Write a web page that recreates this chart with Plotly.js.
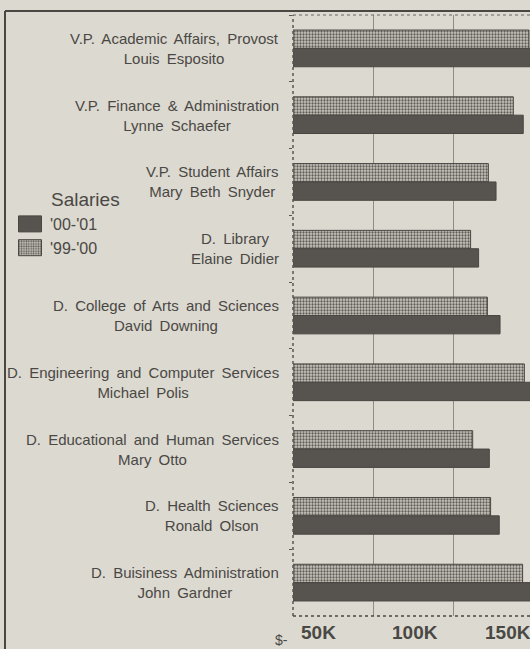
<!DOCTYPE html>
<html>
<head>
<meta charset="utf-8">
<script src="https://cdn.plot.ly/plotly-3.0.1.min.js"></script>
<style>
  html, body { margin: 0; padding: 0; background: #dcd9d0; }
  #chart { width: 530px; height: 649px; }
  .annotation-text { word-spacing: 3px; }
</style>
</head>
<body>
<div id="chart"></div>
<script>
// ---- data ----
var titles = [
  "V.P. Academic Affairs, Provost",
  "V.P. Finance & Administration",
  "V.P. Student Affairs",
  "D. Library",
  "D. College of Arts and Sciences",
  "D. Engineering and Computer Services",
  "D. Educational and Human Services",
  "D. Health Sciences",
  "D. Buisiness Administration"
];
var people = [
  "Louis Esposito",
  "Lynne Schaefer",
  "Mary Beth Snyder",
  "Elaine Didier",
  "David Downing",
  "Michael Polis",
  "Mary Otto",
  "Ronald Olson",
  "John Gardner"
];
var salary9900 = [147500, 137700, 122100, 111000, 121500, 144600, 112300, 123500, 143500];
var salary0001 = [155000, 143900, 126900, 116000, 129400, 152000, 122700, 128900, 150000];
var seriesNames = ["'99-'00", "'00-'01"];
var legendTitle = "Salaries";
var tickLabels = ["$-", "50K", "100K", "150K"];

// ---- layout helpers (pixel geometry) ----
var W = 530, H = 649, L = 293, T = 15, B = 33, R = 0;
var PW = W - L - R, PH = H - T - B;
function px(x) { return (x - L) / PW; }
function py(y) { return 1 - (y - T) / PH; }

var cats = titles.map(function (t, i) { return t + " / " + people[i]; });
var txt = "#4a4845";

var traces = [
  {
    type: "bar", orientation: "h", name: seriesNames[0],
    y: cats, x: salary9900,
    marker: {
      color: "#cfccc4",
      pattern: { shape: ".", fgcolor: "#5f5b57", bgcolor: "#c9c6be", size: 3, solidity: 0.45 },
      line: { color: "#4a4642", width: 1 }
    },
    hoverinfo: "x"
  },
  {
    type: "bar", orientation: "h", name: seriesNames[1],
    y: cats, x: salary0001,
    marker: { color: "#57534f", line: { color: "#4a4642", width: 1 } },
    hoverinfo: "x"
  }
];

var annotations = [];
cats.forEach(function (c, i) {
  annotations.push({
    xref: "paper", yref: "y", x: px(281), y: c,
    xanchor: "right", yanchor: "middle", align: "center",
    text: titles[i] + "<br>" + people[i],
    showarrow: false,
    font: { family: "Liberation Sans, Arial, sans-serif", size: 15, color: txt }
  });
});
// legend title
annotations.push({
  xref: "paper", yref: "paper", x: px(49), y: py(200),
  xanchor: "left", yanchor: "middle", text: legendTitle, showarrow: false,
  font: { family: "Liberation Sans, Arial, sans-serif", size: 19, color: txt }
});
// axis tick labels (placed as printed)
var tickPx = [281, 318, 415, 508];
tickLabels.forEach(function (t, i) {
  var first = i === 0;
  annotations.push({
    xref: "paper", yref: "paper", x: px(tickPx[i]), y: py(first ? 640 : 632),
    xanchor: "center", yanchor: "middle", text: first ? t : "<b>" + t + "</b>", showarrow: false,
    font: first ? { family: "Liberation Sans, Arial, sans-serif", size: 14, color: txt }
                : { family: "Liberation Sans Narrow, Arial Narrow, sans-serif", size: 19, color: txt }
  });
});

var shapes = [
  // outer frame
  { type: "line", xref: "paper", yref: "paper", x0: px(5), x1: px(540), y0: py(11), y1: py(11),
    line: { color: "#4a4642", width: 2 } },
  { type: "line", xref: "paper", yref: "paper", x0: px(5), x1: px(5), y0: py(11), y1: py(660),
    line: { color: "#4a4642", width: 2 } },
  // plot borders (dotted)
  { type: "line", xref: "paper", yref: "paper", x0: 0, x1: 1, y0: 1, y1: 1,
    line: { color: "#6a6661", width: 1, dash: "dot" } },
  { type: "line", xref: "paper", yref: "paper", x0: 0, x1: 1, y0: 0, y1: 0,
    line: { color: "#4a4642", width: 1.5, dash: "dot" } },
  { type: "line", xref: "paper", yref: "paper", x0: 0, x1: 0, y0: 0, y1: 1,
    line: { color: "#5a5652", width: 1.5, dash: "dot" } }
];

var layout = {
  width: W, height: H,
  margin: { l: L, r: R, t: T, b: B, pad: 0 },
  paper_bgcolor: "#dcd9d0", plot_bgcolor: "#dcd9d0",
  barmode: "group", bargap: 0.45, bargroupgap: 0,
  showlegend: true,
  legend: {
    x: px(10), y: py(207), xanchor: "left", yanchor: "top",
    traceorder: "reversed", bgcolor: "rgba(0,0,0,0)",
    font: { family: "Liberation Sans, Arial, sans-serif", size: 16, color: txt },
    itemwidth: 30, tracegroupgap: 0
  },
  xaxis: {
    range: [0, PW / 80 * 50000], showticklabels: false, ticks: "",
    showgrid: true, gridcolor: "#8f8c86", gridwidth: 1,
    tickvals: [50000, 100000, 150000],
    zeroline: false, showline: false, fixedrange: true
  },
  yaxis: {
    type: "category", autorange: "reversed", showticklabels: false,
    ticks: "outside", ticklen: 3, tickcolor: "#5a5652", tickson: "boundaries",
    showgrid: false, zeroline: false, showline: false, fixedrange: true
  },
  annotations: annotations,
  shapes: shapes
};

Plotly.newPlot("chart", traces, layout, { displayModeBar: false, staticPlot: true }).then(function (gd) {
  // enlarge the legend swatches to the printed size
  gd.querySelectorAll(".legendpoints path").forEach(function (p) {
    p.setAttribute("d", "M11.5,8H-11.5V-8H11.5Z");
  });
});
</script>
</body>
</html>
